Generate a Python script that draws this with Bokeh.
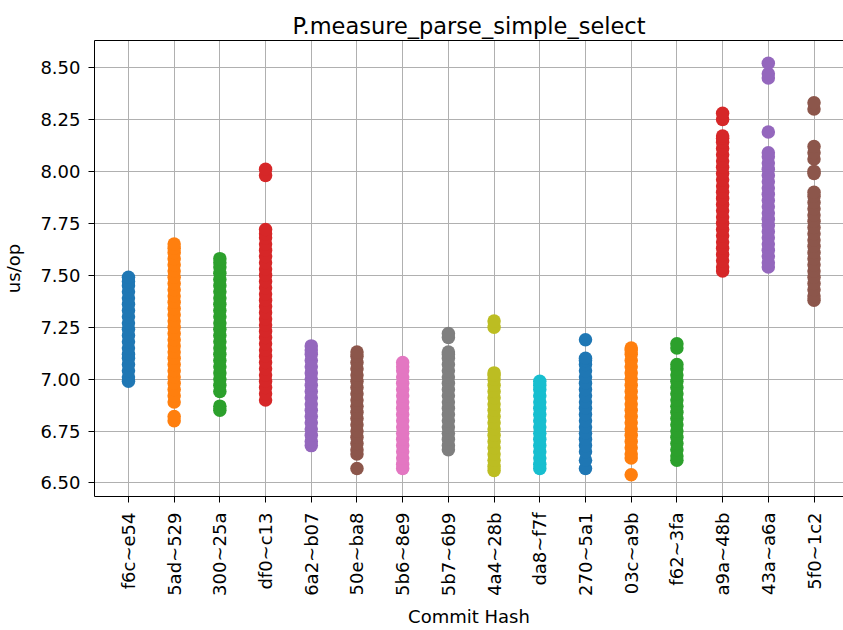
from bokeh.plotting import figure
from bokeh.models import FixedTicker, ColumnDataSource, LinearAxis
from bokeh.embed import file_html
from bokeh.resources import INLINE
import math

commits = ["f6c~e54", "5ad~529", "300~25a", "df0~c13", "6a2~b07", "50e~ba8",
           "5b6~8e9", "5b7~6b9", "4a4~28b", "da8~f7f", "270~5a1", "03c~a9b",
           "f62~3fa", "a9a~48b", "43a~a6a", "5f0~1c2"]

v_f6c = [6.99, 7.01, 7.04, 7.07, 7.10, 7.12, 7.15, 7.18, 7.21, 7.24, 7.27, 7.30,
         7.33, 7.36, 7.39, 7.42, 7.45, 7.47, 7.49]
v_5ad = [6.80, 6.82, 6.89, 6.92, 6.95, 6.98, 7.01, 7.04, 7.07, 7.10, 7.13, 7.16,
         7.19, 7.22, 7.25, 7.28, 7.31, 7.34, 7.37, 7.40, 7.43, 7.46, 7.49, 7.52,
         7.55, 7.58, 7.61, 7.63, 7.65]
v_300 = [6.85, 6.87, 6.94, 6.97, 7.00, 7.03, 7.06, 7.09, 7.12, 7.15, 7.18, 7.21,
         7.24, 7.27, 7.30, 7.33, 7.36, 7.39, 7.42, 7.45, 7.48, 7.51, 7.54, 7.56, 7.58]
v_df0 = [6.90, 6.93, 6.96, 6.99, 7.02, 7.05, 7.08, 7.11, 7.14, 7.17, 7.20, 7.23,
         7.26, 7.29, 7.32, 7.35, 7.38, 7.41, 7.44, 7.47, 7.50, 7.53, 7.56, 7.59,
         7.62, 7.65, 7.68, 7.70, 7.72, 7.98, 8.01]
v_6a2 = [6.68, 6.70, 6.73, 6.76, 6.79, 6.82, 6.85, 6.88, 6.91, 6.94, 6.97, 7.00,
         7.03, 7.06, 7.09, 7.12, 7.14, 7.16]
v_50e = [6.57, 6.64, 6.66, 6.69, 6.72, 6.75, 6.78, 6.81, 6.84, 6.87, 6.90, 6.93,
         6.96, 6.99, 7.02, 7.05, 7.08, 7.11, 7.13]
v_5b6 = [6.57, 6.59, 6.62, 6.65, 6.68, 6.71, 6.74, 6.77, 6.80, 6.83, 6.86, 6.89,
         6.92, 6.95, 6.98, 7.01, 7.04, 7.06, 7.08]
v_5b7 = [6.66, 6.68, 6.71, 6.74, 6.77, 6.80, 6.83, 6.86, 6.89, 6.92, 6.95, 6.98,
         7.01, 7.04, 7.07, 7.10, 7.12, 7.13, 7.20, 7.22]
v_4a4 = [6.56, 6.58, 6.61, 6.64, 6.67, 6.70, 6.73, 6.76, 6.79, 6.82, 6.85, 6.88,
         6.91, 6.94, 6.97, 7.00, 7.02, 7.03, 7.25, 7.28]
v_da8 = [6.57, 6.59, 6.62, 6.65, 6.68, 6.71, 6.74, 6.77, 6.80, 6.83, 6.86, 6.89,
         6.92, 6.95, 6.97, 6.99]
v_270 = [6.57, 6.61, 6.65, 6.68, 6.71, 6.74, 6.77, 6.80, 6.83, 6.86, 6.89, 6.92,
         6.95, 6.98, 7.01, 7.04, 7.07, 7.09, 7.10, 7.19]
v_03c = [6.54, 6.62, 6.64, 6.67, 6.70, 6.73, 6.76, 6.79, 6.82, 6.85, 6.88, 6.91,
         6.94, 6.97, 7.00, 7.03, 7.06, 7.09, 7.12, 7.14, 7.15]
v_f62 = [6.61, 6.63, 6.66, 6.69, 6.72, 6.75, 6.78, 6.81, 6.84, 6.87, 6.90, 6.93,
         6.96, 6.99, 7.02, 7.05, 7.07, 7.15, 7.17]
v_a9a = [7.52, 7.54, 7.57, 7.60, 7.63, 7.66, 7.69, 7.72, 7.75, 7.78, 7.81, 7.84,
         7.87, 7.90, 7.93, 7.96, 7.99, 8.02, 8.05, 8.08, 8.11, 8.14, 8.16, 8.17,
         8.25, 8.28]
v_43a = [7.54, 7.56, 7.59, 7.62, 7.65, 7.68, 7.71, 7.74, 7.77, 7.80, 7.83, 7.86,
         7.89, 7.92, 7.95, 7.98, 8.01, 8.04, 8.07, 8.09, 8.19, 8.45, 8.47, 8.52]
v_5f0 = [7.38, 7.40, 7.43, 7.46, 7.49, 7.52, 7.55, 7.58, 7.61, 7.64, 7.67, 7.70,
         7.73, 7.76, 7.79, 7.82, 7.85, 7.88, 7.90, 7.99, 8.00, 8.06, 8.09, 8.12,
         8.30, 8.33]

values = [v_f6c, v_5ad, v_300, v_df0, v_6a2, v_50e, v_5b6, v_5b7, v_4a4, v_da8,
          v_270, v_03c, v_f62, v_a9a, v_43a, v_5f0]

palette = ["#1f77b4", "#ff7f0e", "#2ca02c", "#d62728", "#9467bd", "#8c564b",
           "#e377c2", "#7f7f7f", "#bcbd22", "#17becf"]

y_ticks = [6.50, 6.75, 7.00, 7.25, 7.50, 7.75, 8.00, 8.25, 8.50]

FONT = "DejaVu Sans"
TICK_FS = "18px"

p = figure(width=843, height=630, output_backend="svg", toolbar_location=None,
           x_range=(-0.743, 15.645), y_range=(6.435, 8.630),
           min_border_left=93, min_border_right=0, min_border_top=40,
           min_border_bottom=133)

p.title.text = "P.measure_parse_simple_select"
p.title.align = "center"
p.title.text_font = FONT
p.title.text_font_size = "22.5px"
p.title.text_font_style = "normal"
p.title.text_color = "#000000"
p.title.standoff = 4

for i, vals in enumerate(values):
    src = ColumnDataSource(dict(x=[i] * len(vals), y=vals))
    p.scatter("x", "y", source=src, size=13.5, color=palette[i % 10],
              line_color=None)

p.xaxis.ticker = FixedTicker(ticks=list(range(len(commits))))
p.xaxis.major_label_overrides = {i: c for i, c in enumerate(commits)}
p.xaxis.major_label_orientation = math.pi / 2
p.yaxis.ticker = FixedTicker(ticks=y_ticks)
p.yaxis.major_label_overrides = {t: f"{t:.2f}" for t in y_ticks}

p.xaxis.axis_label = "Commit Hash"
p.yaxis.axis_label = "us/op"

for ax in (p.xaxis, p.yaxis):
    ax.axis_label_text_font = FONT
    ax.axis_label_text_font_size = TICK_FS
    ax.axis_label_text_font_style = "normal"
    ax.axis_label_text_color = "#000000"
    ax.major_label_text_font = FONT
    ax.major_label_text_font_size = TICK_FS
    ax.major_label_text_color = "#000000"
    ax.minor_tick_line_color = None
    ax.major_tick_in = 0
    ax.major_tick_out = 6
    ax.major_tick_line_color = "#000000"
    ax.axis_line_color = "#000000"
    ax.axis_line_width = 1

p.yaxis.major_label_standoff = 8
p.yaxis.axis_label_standoff = 13
p.xaxis.major_label_standoff = 10
p.xaxis.axis_label_standoff = 7

# top frame edge (right edge of the reference frame lies outside the picture)
top_axis = LinearAxis(ticker=FixedTicker(ticks=[]), major_tick_out=0,
                      major_tick_in=0, minor_tick_out=0, minor_tick_in=0,
                      major_label_text_font_size="0px", axis_line_color="#000000")
p.add_layout(top_axis, "above")

p.grid.grid_line_color = "#b0b0b0"
p.grid.grid_line_width = 1
p.outline_line_color = None
p.background_fill_color = "white"
p.border_fill_color = "white"

open("out.html", "w").write(file_html(p, INLINE))
